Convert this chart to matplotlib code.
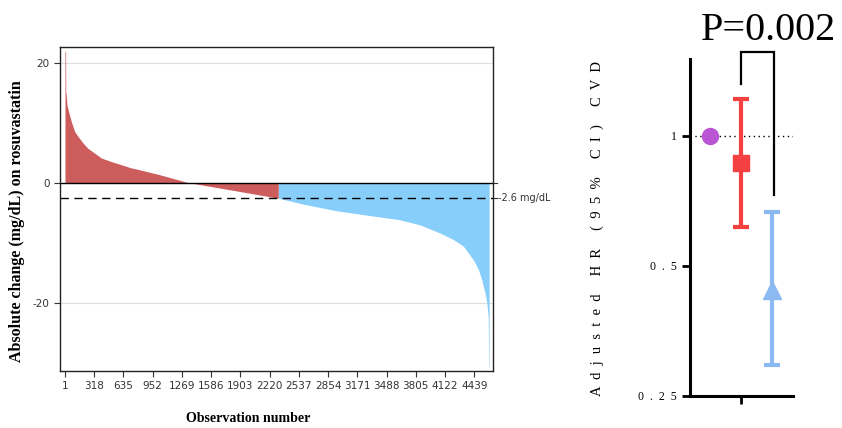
import matplotlib
matplotlib.use("Agg")
import matplotlib.pyplot as plt
from matplotlib.lines import Line2D

# waterfall: observation number vs absolute change
red_obs = [1, 8, 9, 12, 23, 44, 69, 106, 142, 196, 250, 323, 395, 503, 648, 706, 793,
           1031, 1338, 1791, 2314]
red_vals = [21.9, 21.9, 15.2, 15.0, 12.9, 11.6, 10.2, 8.5, 7.7, 6.6, 5.7, 4.9, 4.1, 3.5,
            2.8, 2.5, 2.2, 1.3, 0.0, -1.2, -2.6]
blue_obs = [2315, 2586, 2948, 3309, 3634, 3851, 4068, 4213, 4321, 4430, 4484, 4520,
            4556, 4575, 4590, 4596, 4600]
blue_vals = [-2.6, -3.6, -4.7, -5.5, -6.2, -7.05, -8.4, -9.5, -10.6, -12.9, -14.5, -16.2,
             -18.4, -20.0, -22.5, -30.6, -30.6]
threshold = -2.6
x_ticks = [1, 318, 635, 952, 1269, 1586, 1903, 2220, 2537, 2854, 3171, 3488, 3805, 4122, 4439]

# hazard ratios
hr_groups = ["ref", "low", "high"]
hr = [1.0, 0.865, 0.44]
hr_lo = [1.0, 0.616, 0.295]
hr_hi = [1.0, 1.216, 0.666]
hr_colors = ["#BA55D3", "#F44040", "#8DB9F3"]
hr_markers = ["o", "s", "^"]
p_text = "P=0.002"
hr_label_words = ["Adjusted", "HR", "(95%", "CI)", "CVD"]

fig = plt.figure(figsize=(8.42, 4.28), dpi=100)

# ---- left panel
ax = fig.add_axes([60/842, 1-371/428, 433/842, 324/428])
ax.fill_between(red_obs, red_vals, 0, color="#CD5C5C", linewidth=0)
ax.fill_between(blue_obs, blue_vals, 0, color="#87CEFA", linewidth=0)
ax.axhline(0, color="black", lw=1)
for g in (20, -20):
    ax.axhline(g, color="#dddddd", lw=0.8, zorder=0)
ax.axhline(threshold, color="black", lw=1, ls=(0, (6, 4)))
ax.set_xlim(-53, 4642)
ax.set_ylim(-31.4, 22.6)
ax.set_xticks(x_ticks)
ax.set_xticklabels([str(t) for t in x_ticks], fontsize=7.5, color="#333333")
ax.set_yticks([20, 0, -20])
ax.set_yticklabels(["20", "0", "-20"], fontsize=7.5, color="#333333")
ax.tick_params(length=4, width=0.8, color="#333333")
for s in ax.spines.values():
    s.set_linewidth(1)
    s.set_color("#222222")
ax.add_line(Line2D([1.0, 1.009], [0, 0], transform=ax.get_yaxis_transform(),
                   color="#333333", lw=0.8, clip_on=False))
ax.plot([1.0, 1.009], [threshold, threshold], transform=ax.get_yaxis_transform(),
        color="#333333", lw=0.8, clip_on=False)
ax.text(1.012, threshold, "-2.6 mg/dL", transform=ax.get_yaxis_transform(),
        fontsize=7, color="#333333", va="center", ha="left")

fig.text(17/842, 1-221/428, "Absolute change (mg/dL) on rosuvastatin", rotation=90,
         family="Liberation Serif", weight="bold", fontsize=11.5, ha="center", va="center")
fig.text(248/842, 1-418/428, "Observation number", family="Liberation Serif",
         weight="bold", fontsize=10, ha="center", va="center")

# ---- right panel
ax2 = fig.add_axes([690/842, 1-396/428, 103/842, 337.3/428])
ax2.set_yscale("log")
for i in range(3):
    yerr = [[hr[i] - hr_lo[i]], [hr_hi[i] - hr[i]]]
    ax2.errorbar(i, hr[i], yerr=yerr, fmt=hr_markers[i], color=hr_colors[i],
                 ms=[11.5, 12, 13][i], elinewidth=3, capsize=6, capthick=3, zorder=3)
ax2.axhline(1, color="black", lw=1, ls=(0, (1, 2.5)), zorder=1)
ax2.set_xlim(-0.645, 2.677)
ax2.set_ylim(0.25, 1.507)
ax2.set_yticks([0.25, 0.5, 1])
ax2.set_yticklabels(["0  .  2  5", "0  .  5", "1"], family="Liberation Serif", fontsize=8.5)
ax2.minorticks_off()
ax2.set_xticks([1])
ax2.set_xticklabels([""])
ax2.tick_params(length=6, width=2)
ax2.spines[["top", "right"]].set_visible(False)
for s in ("left", "bottom"):
    ax2.spines[s].set_linewidth(2.2)

# significance bracket
ax2.plot([1, 1, 2.06, 2.06], [1.32, 1.56, 1.56, 0.729], color="black", lw=1.6,
         clip_on=False, solid_joinstyle="miter")
fig.text(768/842, 1-40/428, p_text, family="Liberation Serif", fontsize=29,
         ha="center", va="baseline")

hr_label = "     ".join("  ".join(w) for w in hr_label_words)
fig.text(597/842, 1-228/428, hr_label, rotation=90, family="Liberation Serif",
         fontsize=10.5, ha="center", va="center")

fig.savefig("out.png", dpi=100)
